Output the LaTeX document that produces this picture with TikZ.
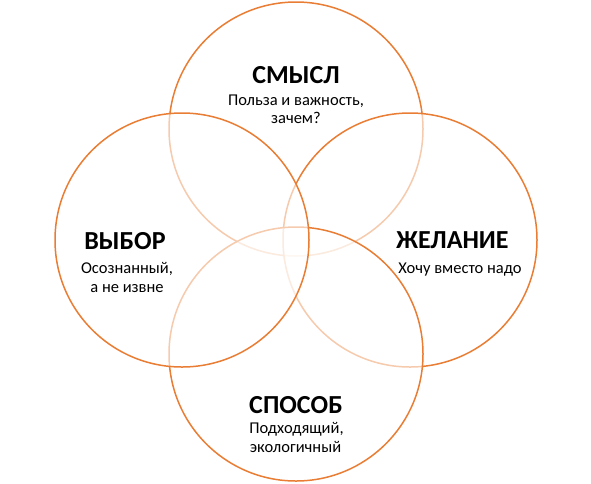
\documentclass[tikz,border=0pt]{standalone}
\usepackage{fontspec}
\setmainfont{Carlito}
\definecolor{vorange}{RGB}{233,125,52}
\begin{document}
\begin{tikzpicture}[x=1pt,y=-1pt,
  venn/.style={draw=vorange,line width=1.5pt,fill=white,fill opacity=0.6,text opacity=1},
  ttl/.style={anchor=base,font=\bfseries\fontsize{26}{28}\selectfont,inner sep=0pt},
  sub/.style={anchor=base,font=\fontsize{16.5}{19}\selectfont,inner sep=0pt}]
\useasboundingbox (0,0) rectangle (591,483);
\path[venn] (296,129) circle[radius=127];
\path[venn] (410,240) circle[radius=127];
\path[venn] (296,354) circle[radius=127];
\path[venn] (182,240) circle[radius=127];
% top
\node[ttl] (t1) at (296,83) {СМЫСЛ};
\node[sub] (t2) at (296,105) {Польза и важность,};
\node[sub] (t3) at (296,123.5) {зачем?};
% left
\node[ttl] (l1) at (125,249) {ВЫБОР};
\node[sub] (l2) at (127,273) {Осознанный,};
\node[sub] (l3) at (127,292) {а не извне};
% right
\node[ttl] (r1) at (452.5,248) {ЖЕЛАНИЕ};
\node[sub] (r2) at (460,273) {Хочу вместо надо};
% bottom
\node[ttl] (b1) at (296,413) {СПОСОБ};
\node[sub] (b2) at (296.5,433) {Подходящий,};
\node[sub] (b3) at (295.5,452) {экологичный};
\end{tikzpicture}
\end{document}
